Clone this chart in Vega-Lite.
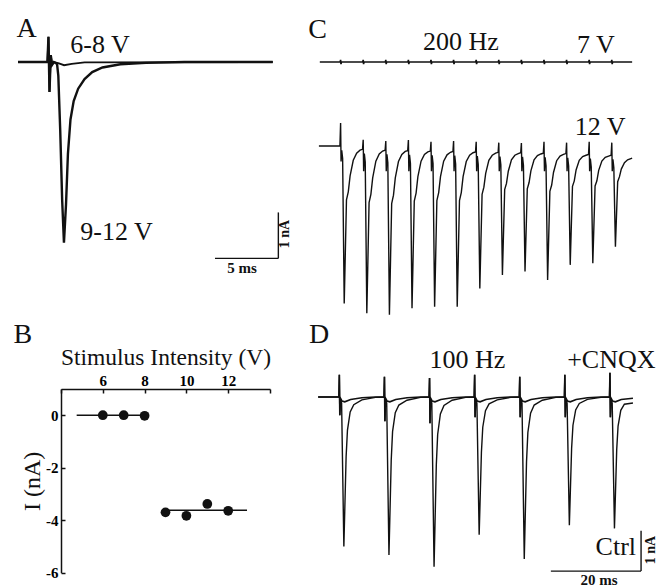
{
  "$schema": "https://vega.github.io/schema/vega-lite/v6.json",
  "width": 659,
  "height": 588,
  "autosize": {"type": "none"},
  "padding": 0,
  "background": "white",
  "config": {"view": {"stroke": null}},
  "resolve": {"scale": {"x": "independent", "y": "independent"}},
  "layer": [
    {
      "encoding": {
        "x": {"field": "x", "type": "quantitative", "scale": {"domain": [0, 21], "range": [18, 286.8], "nice": false, "zero": false}, "axis": null},
        "y": {"field": "y", "type": "quantitative", "scale": {"domain": [-5, 1], "range": [292, 16], "nice": false, "zero": false}, "axis": null}
      },
      "layer": [
        {
          "data": {"values": [
            {"x": 0, "y": 0}, {"x": 2.3, "y": 0}, {"x": 2.38, "y": 0.55}, {"x": 2.46, "y": -0.65}, {"x": 2.56, "y": 0.15}, {"x": 2.66, "y": -0.06}, {"x": 2.8, "y": 0}, {"x": 3.2, "y": -0.03}, {"x": 3.6, "y": -0.07}, {"x": 4.2, "y": -0.04}, {"x": 5.2, "y": -0.01}, {"x": 19.9, "y": 0}
          ]},
          "mark": {"type": "line", "stroke": "#111", "strokeWidth": 1.8}
        },
        {
          "data": {"values": [
            {"x": 0, "y": 0}, {"x": 2.3, "y": 0}, {"x": 2.38, "y": 0.55}, {"x": 2.46, "y": -0.65}, {"x": 2.56, "y": 0.15}, {"x": 2.66, "y": -0.06}, {"x": 2.8, "y": 0}, {"x": 3.05, "y": -0.04}, {"x": 3.15, "y": -0.3}, {"x": 3.3, "y": -1.5}, {"x": 3.45, "y": -3.0}, {"x": 3.59, "y": -3.93}, {"x": 3.75, "y": -3.1}, {"x": 3.9, "y": -2.0}, {"x": 4.1, "y": -1.25}, {"x": 4.35, "y": -0.85}, {"x": 4.7, "y": -0.58}, {"x": 5.2, "y": -0.37}, {"x": 5.8, "y": -0.22}, {"x": 6.6, "y": -0.12}, {"x": 8, "y": -0.05}, {"x": 10, "y": -0.02}, {"x": 13, "y": 0}, {"x": 19.9, "y": 0}
          ]},
          "mark": {"type": "line", "stroke": "#111", "strokeWidth": 2.4}
        },
        {
          "data": {"values": [
            {"x": 15.39, "x2": 20.34, "y": -4.27, "y2": -4.27},
            {"x": 20.34, "x2": 20.34, "y": -4.27, "y2": -3.27}
          ]},
          "mark": {"type": "rule", "stroke": "#111", "strokeWidth": 1.4},
          "encoding": {"x2": {"field": "x2"}, "y2": {"field": "y2"}}
        },
        {
          "data": {"values": [{"x": 0.68, "y": 0.54, "label": "A"}]},
          "mark": {"type": "text", "font": "Liberation Serif", "fontSize": 28, "align": "center", "baseline": "alphabetic", "fill": "#111"},
          "encoding": {"text": {"field": "label"}}
        },
        {
          "data": {"values": [{"x": 6.41, "y": 0.19, "label": "6-8 V"}, {"x": 7.7, "y": -3.87, "label": "9-12 V"}]},
          "mark": {"type": "text", "font": "Liberation Serif", "fontSize": 26, "align": "center", "baseline": "alphabetic", "fill": "#111"},
          "encoding": {"text": {"field": "label"}}
        },
        {
          "data": {"values": [{"x": 17.5, "y": -4.59, "label": "5 ms"}]},
          "mark": {"type": "text", "font": "Liberation Serif", "fontSize": 15, "fontWeight": "bold", "align": "center", "baseline": "alphabetic", "fill": "#111"},
          "encoding": {"text": {"field": "label"}}
        },
        {
          "data": {"values": [{"x": 20.86, "y": -3.74, "label": "1 nA"}]},
          "mark": {"type": "text", "font": "Liberation Serif", "fontSize": 14, "fontWeight": "bold", "angle": 270, "align": "center", "baseline": "middle", "fill": "#111"},
          "encoding": {"text": {"field": "label"}}
        }
      ]
    },
    {
      "encoding": {
        "x": {"field": "x", "type": "quantitative", "scale": {"domain": [4, 14], "range": [61, 270], "nice": false, "zero": false},
          "axis": {"orient": "top", "offset": -389, "values": [4, 6, 8, 10, 12, 14], "labelExpr": "datum.value == 4 || datum.value == 14 ? '' : '' + datum.value", "title": "Stimulus Intensity (V)", "titleFont": "Liberation Serif", "titleFontSize": 23.5, "titleFontWeight": "normal", "titleColor": "#111", "titlePadding": 4, "labelFont": "Liberation Serif", "labelFontSize": 15, "labelFontWeight": "bold", "labelColor": "#000", "labelPadding": 5, "labelFlush": false, "labelOverlap": false, "tickSize": -4, "tickColor": "#111", "tickWidth": 1.5, "domainColor": "#111", "domainWidth": 1.5, "grid": false}},
        "y": {"field": "y", "type": "quantitative", "scale": {"domain": [-6, 1], "range": [572.7, 389], "nice": false, "zero": false},
          "axis": {"orient": "left", "offset": -61, "values": [-6, -4, -2, 0], "labelExpr": "'' + datum.value", "title": "I (nA)", "titleFont": "Liberation Serif", "titleFontSize": 24, "titleFontWeight": "normal", "titleColor": "#111", "titlePadding": 1, "labelFont": "Liberation Serif", "labelFontSize": 15, "labelFontWeight": "bold", "labelColor": "#000", "labelPadding": 7, "labelFlush": false, "labelOverlap": false, "tickSize": -4, "tickColor": "#111", "tickWidth": 1.5, "domainColor": "#111", "domainWidth": 1.5, "grid": false}}
      },
      "layer": [
        {
          "data": {"values": [{"x": 4.75, "x2": 8.1, "y": 0}, {"x": 8.9, "x2": 12.9, "y": -3.62}]},
          "mark": {"type": "rule", "stroke": "#111", "strokeWidth": 1.4},
          "encoding": {"x2": {"field": "x2"}}
        },
        {
          "data": {"values": [
            {"x": 6, "y": 0}, {"x": 7, "y": 0}, {"x": 8, "y": -0.02}, {"x": 9, "y": -3.7}, {"x": 10, "y": -3.83}, {"x": 11, "y": -3.38}, {"x": 12, "y": -3.64}
          ]},
          "mark": {"type": "point", "filled": true, "fill": "#111", "stroke": null, "size": 95, "opacity": 1}
        },
        {
          "data": {"values": [{"x": 2.18, "y": 2.75, "label": "B"}]},
          "mark": {"type": "text", "font": "Liberation Serif", "fontSize": 28, "align": "center", "baseline": "alphabetic", "fill": "#111"},
          "encoding": {"text": {"field": "label"}}
        }
      ]
    },
    {
      "encoding": {
        "x": {"field": "x", "type": "quantitative", "scale": {"domain": [0, 70], "range": [318, 634.4], "nice": false, "zero": false}, "axis": null},
        "y": {"field": "y", "type": "quantitative", "scale": {"domain": [-1, 1], "range": [104, 20], "nice": false, "zero": false}, "axis": null}
      },
      "layer": [
        {
          "data": {"values": [
            {"x": 0.4, "y": 0},
            {"x": 4.9, "y": 0}, {"x": 5, "y": 0.05}, {"x": 5.08, "y": -0.05}, {"x": 5.2, "y": 0},
            {"x": 9.9, "y": 0}, {"x": 10, "y": 0.05}, {"x": 10.08, "y": -0.05}, {"x": 10.2, "y": 0},
            {"x": 14.9, "y": 0}, {"x": 15, "y": 0.05}, {"x": 15.08, "y": -0.05}, {"x": 15.2, "y": 0},
            {"x": 19.9, "y": 0}, {"x": 20, "y": 0.05}, {"x": 20.08, "y": -0.05}, {"x": 20.2, "y": 0},
            {"x": 24.9, "y": 0}, {"x": 25, "y": 0.05}, {"x": 25.08, "y": -0.05}, {"x": 25.2, "y": 0},
            {"x": 29.9, "y": 0}, {"x": 30, "y": 0.05}, {"x": 30.08, "y": -0.05}, {"x": 30.2, "y": 0},
            {"x": 34.9, "y": 0}, {"x": 35, "y": 0.05}, {"x": 35.08, "y": -0.05}, {"x": 35.2, "y": 0},
            {"x": 39.9, "y": 0}, {"x": 40, "y": 0.05}, {"x": 40.08, "y": -0.05}, {"x": 40.2, "y": 0},
            {"x": 44.9, "y": 0}, {"x": 45, "y": 0.05}, {"x": 45.08, "y": -0.05}, {"x": 45.2, "y": 0},
            {"x": 49.9, "y": 0}, {"x": 50, "y": 0.05}, {"x": 50.08, "y": -0.05}, {"x": 50.2, "y": 0},
            {"x": 54.9, "y": 0}, {"x": 55, "y": 0.05}, {"x": 55.08, "y": -0.05}, {"x": 55.2, "y": 0},
            {"x": 59.9, "y": 0}, {"x": 60, "y": 0.05}, {"x": 60.08, "y": -0.05}, {"x": 60.2, "y": 0},
            {"x": 64.9, "y": 0}, {"x": 65, "y": 0.05}, {"x": 65.08, "y": -0.05}, {"x": 65.2, "y": 0},
            {"x": 69.5, "y": 0}
          ]},
          "mark": {"type": "line", "stroke": "#111", "strokeWidth": 1.6}
        },
        {
          "data": {"values": [{"x": -0.11, "y": 0.57, "label": "C"}]},
          "mark": {"type": "text", "font": "Liberation Serif", "fontSize": 28, "align": "center", "baseline": "alphabetic", "fill": "#111"},
          "encoding": {"text": {"field": "label"}}
        },
        {
          "data": {"values": [{"x": 31.6, "y": 0.29, "label": "200 Hz"}, {"x": 61.5, "y": 0.21, "label": "7 V"}]},
          "mark": {"type": "text", "font": "Liberation Serif", "fontSize": 26, "align": "center", "baseline": "alphabetic", "fill": "#111"},
          "encoding": {"text": {"field": "label"}}
        }
      ]
    },
    {
      "encoding": {
        "x": {"field": "x", "type": "quantitative", "scale": {"domain": [0, 70], "range": [318, 634.4], "nice": false, "zero": false}, "axis": null},
        "y": {"field": "y", "type": "quantitative", "scale": {"domain": [-4.5, 1], "range": [335, 104], "nice": false, "zero": false}, "axis": null}
      },
      "layer": [
        {
          "data": {"values": [
            {"x": 0.2, "y": 0},
            {"x": 4.85, "y": 0}, {"x": 5, "y": 0.55}, {"x": 5.1, "y": -0.37}, {"x": 5.25, "y": -0.1}, {"x": 5.45, "y": -0.3}, {"x": 5.8, "y": -3.75}, {"x": 6.3, "y": -1.28}, {"x": 6.7, "y": -1.09}, {"x": 7.1, "y": -0.71}, {"x": 7.8, "y": -0.34}, {"x": 8.55, "y": -0.17}, {"x": 9.3, "y": -0.1}, {"x": 9.85, "y": -0.08},
            {"x": 10, "y": 0.15}, {"x": 10.1, "y": -0.6}, {"x": 10.25, "y": -0.18}, {"x": 10.45, "y": -0.38}, {"x": 10.8, "y": -3.98}, {"x": 11.3, "y": -1.35}, {"x": 11.7, "y": -1.15}, {"x": 12.1, "y": -0.76}, {"x": 12.8, "y": -0.36}, {"x": 13.55, "y": -0.19}, {"x": 14.3, "y": -0.12}, {"x": 14.85, "y": -0.1},
            {"x": 15, "y": 0.12}, {"x": 15.1, "y": -0.6}, {"x": 15.25, "y": -0.2}, {"x": 15.45, "y": -0.4}, {"x": 15.8, "y": -4.02}, {"x": 16.3, "y": -1.37}, {"x": 16.7, "y": -1.17}, {"x": 17.1, "y": -0.76}, {"x": 17.8, "y": -0.37}, {"x": 18.55, "y": -0.2}, {"x": 19.3, "y": -0.13}, {"x": 19.85, "y": -0.11},
            {"x": 20, "y": 0.14}, {"x": 20.1, "y": -0.6}, {"x": 20.25, "y": -0.21}, {"x": 20.45, "y": -0.41}, {"x": 20.8, "y": -3.86}, {"x": 21.3, "y": -1.31}, {"x": 21.7, "y": -1.12}, {"x": 22.1, "y": -0.73}, {"x": 22.8, "y": -0.36}, {"x": 23.55, "y": -0.2}, {"x": 24.3, "y": -0.14}, {"x": 24.85, "y": -0.12},
            {"x": 25, "y": 0.1}, {"x": 25.1, "y": -0.6}, {"x": 25.25, "y": -0.22}, {"x": 25.45, "y": -0.42}, {"x": 25.8, "y": -3.83}, {"x": 26.3, "y": -1.3}, {"x": 26.7, "y": -1.11}, {"x": 27.1, "y": -0.73}, {"x": 27.8, "y": -0.36}, {"x": 28.55, "y": -0.21}, {"x": 29.3, "y": -0.15}, {"x": 29.85, "y": -0.13},
            {"x": 30, "y": 0.12}, {"x": 30.1, "y": -0.6}, {"x": 30.25, "y": -0.23}, {"x": 30.45, "y": -0.43}, {"x": 30.8, "y": -3.83}, {"x": 31.3, "y": -1.3}, {"x": 31.7, "y": -1.11}, {"x": 32.1, "y": -0.73}, {"x": 32.8, "y": -0.37}, {"x": 33.55, "y": -0.22}, {"x": 34.3, "y": -0.16}, {"x": 34.85, "y": -0.14},
            {"x": 35, "y": 0.1}, {"x": 35.1, "y": -0.6}, {"x": 35.25, "y": -0.24}, {"x": 35.45, "y": -0.44}, {"x": 35.8, "y": -3.39}, {"x": 36.3, "y": -1.15}, {"x": 36.7, "y": -0.98}, {"x": 37.1, "y": -0.65}, {"x": 37.8, "y": -0.34}, {"x": 38.55, "y": -0.22}, {"x": 39.3, "y": -0.17}, {"x": 39.85, "y": -0.15},
            {"x": 40, "y": 0.08}, {"x": 40.1, "y": -0.6}, {"x": 40.25, "y": -0.25}, {"x": 40.45, "y": -0.45}, {"x": 40.8, "y": -3.07}, {"x": 41.3, "y": -1.04}, {"x": 41.7, "y": -0.89}, {"x": 42.1, "y": -0.6}, {"x": 42.8, "y": -0.33}, {"x": 43.55, "y": -0.22}, {"x": 44.3, "y": -0.18}, {"x": 44.85, "y": -0.16},
            {"x": 45, "y": 0.07}, {"x": 45.1, "y": -0.6}, {"x": 45.25, "y": -0.26}, {"x": 45.45, "y": -0.46}, {"x": 45.8, "y": -2.99}, {"x": 46.3, "y": -1.02}, {"x": 46.7, "y": -0.87}, {"x": 47.1, "y": -0.59}, {"x": 47.8, "y": -0.33}, {"x": 48.55, "y": -0.23}, {"x": 49.3, "y": -0.19}, {"x": 49.85, "y": -0.17},
            {"x": 50, "y": 0.1}, {"x": 50.1, "y": -0.6}, {"x": 50.25, "y": -0.27}, {"x": 50.45, "y": -0.47}, {"x": 50.8, "y": -3.19}, {"x": 51.3, "y": -1.08}, {"x": 51.7, "y": -0.93}, {"x": 52.1, "y": -0.63}, {"x": 52.8, "y": -0.35}, {"x": 53.55, "y": -0.24}, {"x": 54.3, "y": -0.2}, {"x": 54.85, "y": -0.18},
            {"x": 55, "y": 0.08}, {"x": 55.1, "y": -0.6}, {"x": 55.25, "y": -0.28}, {"x": 55.45, "y": -0.48}, {"x": 55.8, "y": -2.83}, {"x": 56.3, "y": -0.96}, {"x": 56.7, "y": -0.83}, {"x": 57.1, "y": -0.57}, {"x": 57.8, "y": -0.34}, {"x": 58.55, "y": -0.25}, {"x": 59.3, "y": -0.22}, {"x": 59.85, "y": -0.2},
            {"x": 60, "y": 0.1}, {"x": 60.1, "y": -0.6}, {"x": 60.25, "y": -0.3}, {"x": 60.45, "y": -0.5}, {"x": 60.8, "y": -2.79}, {"x": 61.3, "y": -0.95}, {"x": 61.7, "y": -0.83}, {"x": 62.1, "y": -0.58}, {"x": 62.8, "y": -0.36}, {"x": 63.55, "y": -0.27}, {"x": 64.3, "y": -0.24}, {"x": 64.85, "y": -0.22},
            {"x": 65, "y": 0.08}, {"x": 65.1, "y": -0.6}, {"x": 65.25, "y": -0.32}, {"x": 65.45, "y": -0.52}, {"x": 65.8, "y": -2.4}, {"x": 66.3, "y": -0.85}, {"x": 66.7, "y": -0.73}, {"x": 67.1, "y": -0.55}, {"x": 67.8, "y": -0.4}, {"x": 68.5, "y": -0.33}, {"x": 69.5, "y": -0.29}
          ]},
          "mark": {"type": "line", "stroke": "#111", "strokeWidth": 1.4}
        },
        {
          "data": {"values": [{"x": 62.4, "y": 0.26, "label": "12 V"}]},
          "mark": {"type": "text", "font": "Liberation Serif", "fontSize": 26, "align": "center", "baseline": "alphabetic", "fill": "#111"},
          "encoding": {"text": {"field": "label"}}
        }
      ]
    },
    {
      "encoding": {
        "x": {"field": "x", "type": "quantitative", "scale": {"domain": [0, 75], "range": [316.8, 655.05], "nice": false, "zero": false}, "axis": null},
        "y": {"field": "y", "type": "quantitative", "scale": {"domain": [-5, 1], "range": [598.5, 356.7], "nice": false, "zero": false}, "axis": null}
      },
      "layer": [
        {
          "data": {"values": [
            {"x": 0.3, "y": 0},
            {"x": 4.9, "y": 0}, {"x": 5, "y": 0.55}, {"x": 5.1, "y": -0.45}, {"x": 5.25, "y": -0.03}, {"x": 5.6, "y": -0.1}, {"x": 6.2, "y": -0.12}, {"x": 7.5, "y": -0.06}, {"x": 10, "y": -0.02}, {"x": 13, "y": 0},
            {"x": 14.9, "y": 0}, {"x": 15, "y": 0.5}, {"x": 15.1, "y": -0.6}, {"x": 15.25, "y": -0.03}, {"x": 15.6, "y": -0.1}, {"x": 16.2, "y": -0.12}, {"x": 17.5, "y": -0.06}, {"x": 20, "y": -0.02}, {"x": 23, "y": 0},
            {"x": 24.9, "y": 0}, {"x": 25, "y": 0.47}, {"x": 25.1, "y": -0.65}, {"x": 25.25, "y": -0.03}, {"x": 25.6, "y": -0.1}, {"x": 26.2, "y": -0.12}, {"x": 27.5, "y": -0.06}, {"x": 30, "y": -0.02}, {"x": 33, "y": 0},
            {"x": 34.9, "y": 0}, {"x": 35, "y": 0.55}, {"x": 35.1, "y": -0.5}, {"x": 35.25, "y": -0.03}, {"x": 35.6, "y": -0.1}, {"x": 36.2, "y": -0.12}, {"x": 37.5, "y": -0.06}, {"x": 40, "y": -0.02}, {"x": 43, "y": 0},
            {"x": 44.9, "y": 0}, {"x": 45, "y": 0.5}, {"x": 45.1, "y": -0.5}, {"x": 45.25, "y": -0.03}, {"x": 45.6, "y": -0.1}, {"x": 46.2, "y": -0.12}, {"x": 47.5, "y": -0.06}, {"x": 50, "y": -0.02}, {"x": 53, "y": 0},
            {"x": 54.9, "y": 0}, {"x": 55, "y": 0.55}, {"x": 55.1, "y": -0.5}, {"x": 55.25, "y": -0.03}, {"x": 55.6, "y": -0.1}, {"x": 56.2, "y": -0.12}, {"x": 57.5, "y": -0.06}, {"x": 60, "y": -0.02}, {"x": 63, "y": 0},
            {"x": 64.9, "y": 0}, {"x": 65, "y": 0.6}, {"x": 65.1, "y": -0.5}, {"x": 65.25, "y": -0.03}, {"x": 65.6, "y": -0.1}, {"x": 66.2, "y": -0.12}, {"x": 67.5, "y": -0.06}, {"x": 70.1, "y": -0.03}
          ]},
          "mark": {"type": "line", "stroke": "#111", "strokeWidth": 1.6}
        },
        {
          "data": {"values": [
            {"x": 0.3, "y": 0},
            {"x": 4.9, "y": 0}, {"x": 5, "y": 0.55}, {"x": 5.1, "y": -0.45}, {"x": 5.25, "y": -0.05}, {"x": 5.5, "y": -0.15}, {"x": 6, "y": -3.71}, {"x": 6.5, "y": -1.48}, {"x": 6.8, "y": -0.82}, {"x": 7.4, "y": -0.37}, {"x": 8.2, "y": -0.19}, {"x": 10, "y": -0.07}, {"x": 13, "y": -0.01},
            {"x": 14.9, "y": 0}, {"x": 15, "y": 0.5}, {"x": 15.1, "y": -0.6}, {"x": 15.25, "y": -0.05}, {"x": 15.5, "y": -0.15}, {"x": 16, "y": -3.92}, {"x": 16.5, "y": -1.57}, {"x": 16.8, "y": -0.86}, {"x": 17.4, "y": -0.39}, {"x": 18.2, "y": -0.2}, {"x": 20, "y": -0.08}, {"x": 23, "y": -0.01},
            {"x": 24.9, "y": 0}, {"x": 25, "y": 0.47}, {"x": 25.1, "y": -0.65}, {"x": 25.25, "y": -0.05}, {"x": 25.5, "y": -0.15}, {"x": 26, "y": -4.21}, {"x": 26.5, "y": -1.68}, {"x": 26.8, "y": -0.93}, {"x": 27.4, "y": -0.42}, {"x": 28.2, "y": -0.21}, {"x": 30, "y": -0.08}, {"x": 33, "y": -0.01},
            {"x": 34.9, "y": 0}, {"x": 35, "y": 0.55}, {"x": 35.1, "y": -0.5}, {"x": 35.25, "y": -0.05}, {"x": 35.5, "y": -0.15}, {"x": 36, "y": -3.42}, {"x": 36.5, "y": -1.37}, {"x": 36.8, "y": -0.75}, {"x": 37.4, "y": -0.34}, {"x": 38.2, "y": -0.17}, {"x": 40, "y": -0.07}, {"x": 43, "y": -0.01},
            {"x": 44.9, "y": 0}, {"x": 45, "y": 0.5}, {"x": 45.1, "y": -0.5}, {"x": 45.25, "y": -0.05}, {"x": 45.5, "y": -0.15}, {"x": 46, "y": -4.02}, {"x": 46.5, "y": -1.61}, {"x": 46.8, "y": -0.88}, {"x": 47.4, "y": -0.4}, {"x": 48.2, "y": -0.2}, {"x": 50, "y": -0.08}, {"x": 53, "y": -0.01},
            {"x": 54.9, "y": 0}, {"x": 55, "y": 0.55}, {"x": 55.1, "y": -0.5}, {"x": 55.25, "y": -0.05}, {"x": 55.5, "y": -0.15}, {"x": 56, "y": -3.18}, {"x": 56.5, "y": -1.27}, {"x": 56.8, "y": -0.7}, {"x": 57.4, "y": -0.32}, {"x": 58.2, "y": -0.16}, {"x": 60, "y": -0.06}, {"x": 63, "y": -0.01},
            {"x": 64.9, "y": 0}, {"x": 65, "y": 0.6}, {"x": 65.1, "y": -0.5}, {"x": 65.25, "y": -0.05}, {"x": 65.5, "y": -0.15}, {"x": 66, "y": -3.26}, {"x": 66.5, "y": -1.3}, {"x": 66.8, "y": -0.72}, {"x": 67.4, "y": -0.33}, {"x": 68.2, "y": -0.18}, {"x": 70.1, "y": -0.15}
          ]},
          "mark": {"type": "line", "stroke": "#111", "strokeWidth": 1.4}
        },
        {
          "data": {"values": [
            {"x": 51.9, "x2": 71.9, "y": -4.32, "y2": -4.32},
            {"x": 71.9, "x2": 71.9, "y": -4.32, "y2": -3.32}
          ]},
          "mark": {"type": "rule", "stroke": "#111", "strokeWidth": 1.4},
          "encoding": {"x2": {"field": "x2"}, "y2": {"field": "y2"}}
        },
        {
          "data": {"values": [{"x": 0.49, "y": 1.34, "label": "D"}]},
          "mark": {"type": "text", "font": "Liberation Serif", "fontSize": 28, "align": "center", "baseline": "alphabetic", "fill": "#111"},
          "encoding": {"text": {"field": "label"}}
        },
        {
          "data": {"values": [{"x": 33.4, "y": 0.71, "label": "100 Hz"}, {"x": 65.3, "y": 0.71, "label": "+CNQX"}, {"x": 66.3, "y": -3.92, "label": "Ctrl"}]},
          "mark": {"type": "text", "font": "Liberation Serif", "fontSize": 26, "align": "center", "baseline": "alphabetic", "fill": "#111"},
          "encoding": {"text": {"field": "label"}}
        },
        {
          "data": {"values": [{"x": 62.6, "y": -4.67, "label": "20 ms"}]},
          "mark": {"type": "text", "font": "Liberation Serif", "fontSize": 15, "fontWeight": "bold", "align": "center", "baseline": "alphabetic", "fill": "#111"},
          "encoding": {"text": {"field": "label"}}
        },
        {
          "data": {"values": [{"x": 74.1, "y": -3.8, "label": "1 nA"}]},
          "mark": {"type": "text", "font": "Liberation Serif", "fontSize": 14, "fontWeight": "bold", "angle": 270, "align": "center", "baseline": "middle", "fill": "#111"},
          "encoding": {"text": {"field": "label"}}
        }
      ]
    }
  ]
}
